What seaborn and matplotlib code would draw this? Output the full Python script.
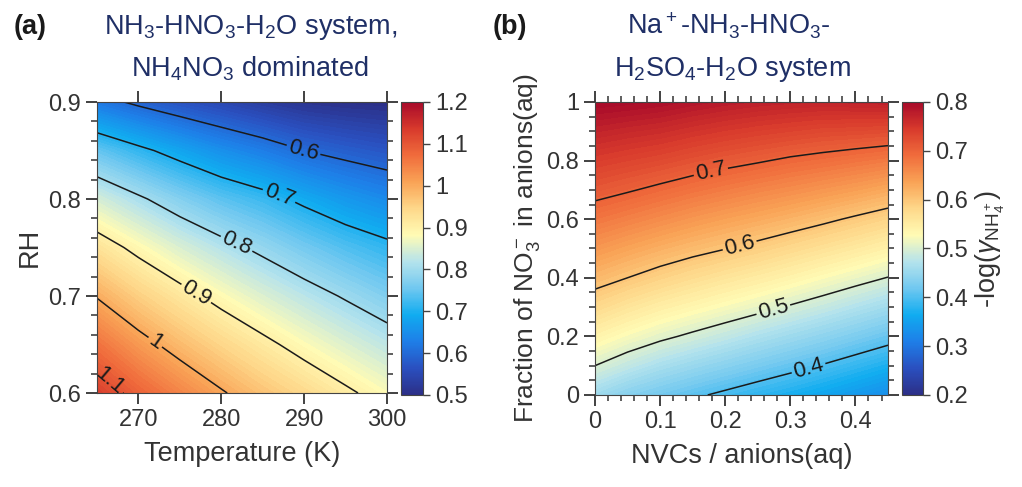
import numpy as np
import matplotlib
matplotlib.use("Agg")
import matplotlib.pyplot as plt
import seaborn as sns
from matplotlib.ticker import MultipleLocator, FormatStrFormatter

# panel (a): -log(gamma), rows = RH, cols = temperature
temps = [265, 270, 275, 280, 285, 290, 295, 300]
rh = [0.6, 0.65, 0.7, 0.75, 0.8, 0.85, 0.9]
gamma_a = [
    [1.130, 1.083, 1.043, 1.005, 0.970, 0.940, 0.909, 0.879],
    [1.065, 1.019, 0.980, 0.945, 0.913, 0.881, 0.852, 0.825],
    [0.997, 0.954, 0.918, 0.883, 0.851, 0.822, 0.795, 0.769],
    [0.926, 0.886, 0.849, 0.817, 0.788, 0.759, 0.733, 0.712],
    [0.845, 0.808, 0.772, 0.741, 0.718, 0.689, 0.663, 0.643],
    [0.747, 0.712, 0.680, 0.650, 0.626, 0.600, 0.584, 0.571],
    [0.619, 0.590, 0.566, 0.546, 0.526, 0.510, 0.503, 0.500],
]
levels_a = [0.6, 0.7, 0.8, 0.9, 1.0, 1.1]
label_pos_a = [(289.9, 0.85), (287, 0.804), (281.9, 0.755), (277, 0.703), (272, 0.652), (266.9, 0.616)]

# panel (b): rows = fraction of NO3- in anions, cols = NVCs / anions
nvc = [0, 0.05, 0.1, 0.15, 0.2, 0.25, 0.3, 0.35, 0.4, 0.45]
frac_no3 = [0, 0.1, 0.2, 0.3, 0.4, 0.5, 0.6, 0.7, 0.8, 0.9, 1.0]
gamma_b = [
    [0.455, 0.435, 0.420, 0.406, 0.393, 0.380, 0.368, 0.355, 0.341, 0.327],
    [0.500, 0.481, 0.464, 0.450, 0.437, 0.424, 0.411, 0.398, 0.384, 0.370],
    [0.539, 0.522, 0.507, 0.494, 0.481, 0.467, 0.454, 0.441, 0.427, 0.413],
    [0.578, 0.561, 0.546, 0.534, 0.522, 0.510, 0.497, 0.484, 0.470, 0.456],
    [0.614, 0.600, 0.586, 0.573, 0.561, 0.550, 0.538, 0.525, 0.512, 0.499],
    [0.647, 0.634, 0.622, 0.611, 0.601, 0.590, 0.578, 0.566, 0.554, 0.541],
    [0.680, 0.669, 0.658, 0.647, 0.637, 0.628, 0.618, 0.607, 0.595, 0.583],
    [0.712, 0.703, 0.693, 0.683, 0.674, 0.665, 0.657, 0.648, 0.639, 0.628],
    [0.741, 0.734, 0.727, 0.718, 0.710, 0.703, 0.695, 0.689, 0.682, 0.675],
    [0.771, 0.765, 0.760, 0.752, 0.745, 0.739, 0.734, 0.729, 0.727, 0.724],
    [0.800, 0.797, 0.793, 0.786, 0.780, 0.775, 0.772, 0.770, 0.772, 0.774],
]
levels_b = [0.4, 0.5, 0.6, 0.7]
label_pos_b = [(0.178, 0.761), (0.222, 0.511), (0.274, 0.29), (0.328, 0.091)]

sns.set_theme(style="ticks")
plt.rcParams['font.family'] = ['Liberation Sans', 'DejaVu Sans']
plt.rcParams['mathtext.fontset'] = 'custom'
plt.rcParams['mathtext.rm'] = 'Liberation Sans'
plt.rcParams['mathtext.it'] = 'Liberation Sans:italic'
plt.rcParams['mathtext.bf'] = 'Liberation Sans:bold'

txt = '#333333'
navy = '#1f2f66'
cmap = sns.blend_palette(['#2c2f87', '#2a50c0', '#1e7fe8', '#10acf0', '#70c8f0', '#b5e3ec',
                          '#fffbb5', '#fed88a', '#f9a356', '#f06c3c', '#d83a2c', '#a80a2a'],
                         n_colors=256, as_cmap=True)

fig = plt.figure(figsize=(10.22, 4.87), dpi=100)


def draw_panel(ax, cax, x, y, z, vmin, vmax, lines, label_pos):
    X, Y = np.meshgrid(x, y)
    Z = np.array(z)
    ax.contourf(X, Y, Z, levels=np.linspace(vmin, vmax, 101), cmap=cmap,
                vmin=vmin, vmax=vmax, extend='both')
    cs = ax.contour(X, Y, Z, levels=lines, colors='k', linewidths=1.1)
    ax.clabel(cs, fmt='%g', fontsize=16, manual=label_pos, inline=True, inline_spacing=2)
    sm = plt.cm.ScalarMappable(cmap=cmap, norm=plt.Normalize(vmin, vmax))
    cb = fig.colorbar(sm, cax=cax, ticks=np.arange(vmin, vmax + 0.01, 0.1))
    cb.ax.yaxis.set_major_formatter(FormatStrFormatter('%g'))
    cb.ax.tick_params(labelsize=17, labelcolor=txt, length=5, width=1, color='#444444')
    cb.outline.set_linewidth(0.8)
    cb.outline.set_edgecolor('#444444')
    ax.tick_params(which='both', direction='out', top=True, right=True,
                   labelsize=17, labelcolor=txt, color='#333333')
    ax.tick_params(which='major', length=8, width=1.3)
    ax.tick_params(which='minor', length=4.5, width=1.1)
    for s in ax.spines.values():
        s.set_linewidth(0.8)
        s.set_edgecolor('#444444')
    return cb


# panel (a)
ax1 = fig.add_axes([0.0949, 0.193, 0.2838, 0.5975])
cax1 = fig.add_axes([0.3924, 0.189, 0.0215, 0.6016])
draw_panel(ax1, cax1, temps, rh, gamma_a, 0.5, 1.2, levels_a, label_pos_a)
ax1.set_xlim(265, 300)
ax1.set_ylim(0.6, 0.9)
ax1.xaxis.set_major_locator(MultipleLocator(10))
ax1.yaxis.set_major_locator(MultipleLocator(0.1))
ax1.yaxis.set_minor_locator(MultipleLocator(0.02))
ax1.yaxis.set_major_formatter(FormatStrFormatter('%g'))
ax1.set_xlabel('Temperature (K)', fontsize=19.5, color=txt, labelpad=7)
ax1.set_ylabel('RH', fontsize=19.5, color=txt, labelpad=4)

# panel (b)
ax2 = fig.add_axes([0.5822, 0.189, 0.2867, 0.6016])
cax2 = fig.add_axes([0.8826, 0.189, 0.0205, 0.6016])
cb2 = draw_panel(ax2, cax2, nvc, frac_no3, gamma_b, 0.2, 0.8, levels_b, label_pos_b)
ax2.set_xlim(0, 0.45)
ax2.set_ylim(0, 1)
ax2.xaxis.set_major_locator(MultipleLocator(0.1))
ax2.xaxis.set_minor_locator(MultipleLocator(0.02))
ax2.yaxis.set_major_locator(MultipleLocator(0.2))
ax2.yaxis.set_minor_locator(MultipleLocator(0.05))
ax2.xaxis.set_major_formatter(FormatStrFormatter('%g'))
ax2.yaxis.set_major_formatter(FormatStrFormatter('%g'))
ax2.set_xlabel('NVCs / anions(aq)', fontsize=19.5, color=txt, labelpad=7)
ax2.set_ylabel(r'Fraction of NO$\mathregular{_3^-}$ in anions(aq)', fontsize=19, color=txt, labelpad=3)
cb2.set_label(r'-log($\gamma_{\mathregular{NH_4^+}}$)', fontsize=19.5, color=txt, labelpad=4)

# panel letters and titles
fig.text(0.029, 0.93, '(a)', fontsize=19.5, fontweight='bold', color='#1a1a1a', ha='center', va='baseline')
fig.text(0.245, 0.93, r'NH$\mathregular{_3}$-HNO$\mathregular{_3}$-H$\mathregular{_2}$O system,',
         fontsize=19.5, color=navy, ha='center', va='baseline')
fig.text(0.244, 0.843, r'NH$\mathregular{_4}$NO$\mathregular{_3}$ dominated',
         fontsize=19.5, color=navy, ha='center', va='baseline')
fig.text(0.499, 0.93, '(b)', fontsize=19.5, fontweight='bold', color='#1a1a1a', ha='center', va='baseline')
fig.text(0.713, 0.93, r'Na$\mathregular{^+}$-NH$\mathregular{_3}$-HNO$\mathregular{_3}$-',
         fontsize=19.5, color=navy, ha='center', va='baseline')
fig.text(0.717, 0.843, r'H$\mathregular{_2}$SO$\mathregular{_4}$-H$\mathregular{_2}$O system',
         fontsize=19.5, color=navy, ha='center', va='baseline')

fig.savefig('out.png', dpi=100)
